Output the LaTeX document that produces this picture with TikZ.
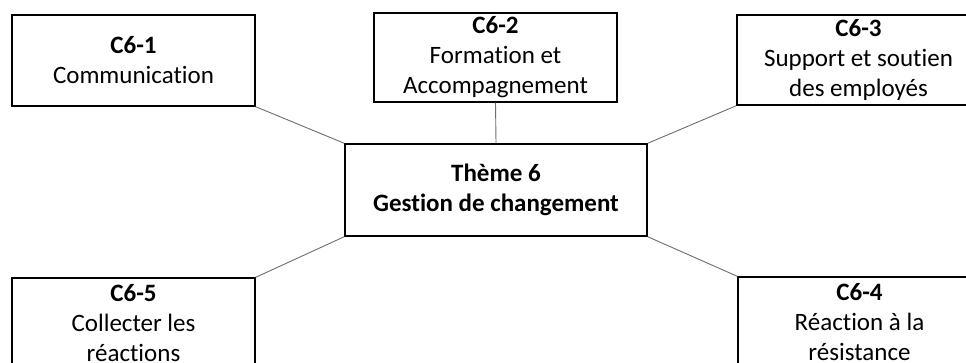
\documentclass[tikz,border=0pt]{standalone}
\usepackage{fontspec}
\setmainfont{Carlito}[RawFeature=-liga]
\definecolor{linkgray}{HTML}{6E6E6E}
\tikzset{
  topic/.style={draw=black, line width=1.4pt, fill=white, inner sep=0pt,
    minimum width=243pt, minimum height=91pt, align=center,
    font=\fontsize{25}{30}\selectfont},
  theme/.style={topic, minimum width=302pt, minimum height=92pt},
  link/.style={draw=linkgray, line width=0.9pt}
}
\begin{document}
\begin{tikzpicture}[x=1pt,y=-1pt]
  \clip (0,0) rectangle (966,362);
  \fill[white] (0,0) rectangle (966,362);

  % central theme
  \node[theme] (c) at (496,190) {\textbf{Thème 6}\\\textbf{Gestion de changement}};

  % surrounding topics
  \node[topic] (b1) at (133.5,60.5) {\textbf{C6-1}\\Communication};
  \node[topic, minimum height=89pt] (b2) at (495.5,57.5) {\textbf{C6-2}\\Formation et\\Accompagnement};
  \node[topic, minimum height=90pt] (b3) at (858.5,60) {\textbf{C6-3}\\Support et soutien\\des employés};
  \node[topic] (b5) at (133.5,323.5) {\textbf{C6-5}\\Collecter les\\réactions};
  \node[topic] (b4) at (859.5,322.5) {\textbf{C6-4}\\Réaction à la\\résistance};

  % connectors
  \draw[link] (b1.south east) -- (c.north west);
  \draw[link] (b2.south) -- (c.north);
  \draw[link] (b3.south west) -- (c.north east);
  \draw[link] (b5.north east) -- (c.south west);
  \draw[link] (b4.north west) -- (c.south east);
\end{tikzpicture}
\end{document}
